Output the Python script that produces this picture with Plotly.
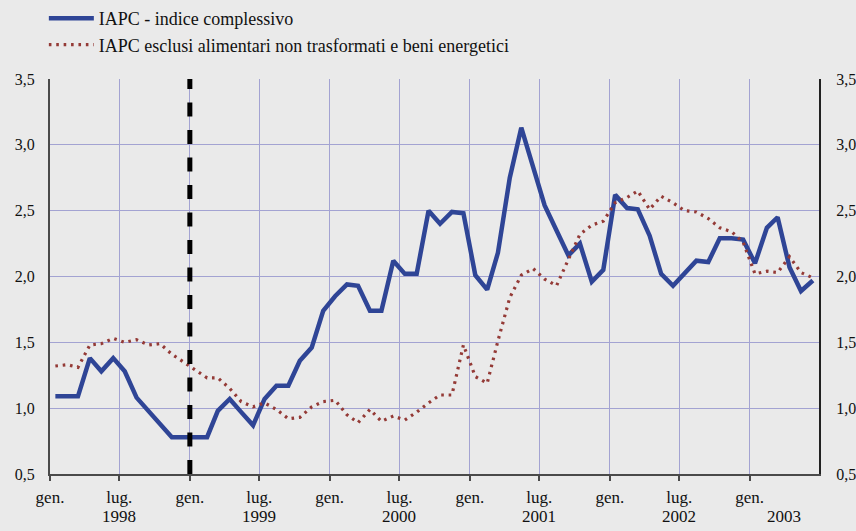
import plotly.graph_objects as go

# ---- data ----
years = [1998, 1999, 2000, 2001, 2002, 2003]
month_dates = [f"{y}-{m:02d}-15" for y in years for m in range(1, 13)][:66]

iapc_total = [
    1.09, 1.09, 1.09, 1.38, 1.28, 1.38, 1.28, 1.08, 0.98, 0.88, 0.78, 0.78,   # 1998
    0.78, 0.78, 0.98, 1.07, 0.97, 0.87, 1.07, 1.17, 1.17, 1.36, 1.46, 1.74,   # 1999
    1.85, 1.94, 1.93, 1.74, 1.74, 2.12, 2.02, 2.02, 2.50, 2.40, 2.49, 2.48,   # 2000
    2.01, 1.90, 2.18, 2.75, 3.13, 2.83, 2.54, 2.35, 2.16, 2.25, 1.96, 2.05,   # 2001
    2.62, 2.52, 2.51, 2.31, 2.02, 1.93, 2.02, 2.12, 2.11, 2.29, 2.29, 2.28,   # 2002
    2.10, 2.37, 2.45, 2.07, 1.89, 1.97,                                       # 2003
]
iapc_core = [
    1.32, 1.33, 1.31, 1.48, 1.49, 1.53, 1.50, 1.52, 1.48, 1.49, 1.41, 1.35,   # 1998
    1.29, 1.23, 1.23, 1.15, 1.05, 1.01, 1.04, 0.99, 0.92, 0.93, 1.01, 1.05,   # 1999
    1.06, 0.95, 0.89, 0.99, 0.90, 0.94, 0.91, 0.97, 1.04, 1.10, 1.10, 1.48,   # 2000
    1.24, 1.19, 1.51, 1.84, 2.01, 2.06, 1.98, 1.93, 2.13, 2.32, 2.39, 2.42,   # 2001
    2.56, 2.60, 2.65, 2.51, 2.61, 2.56, 2.50, 2.49, 2.44, 2.37, 2.34, 2.26,   # 2002
    2.02, 2.04, 2.03, 2.15, 2.03, 1.99,                                       # 2003
]
series_names = ["IAPC - indice complessivo",
                "IAPC esclusi alimentari non trasformati e beni energetici"]

tick_dates = [f"{y}-{m:02d}-01" for y in years for m in (1, 7)][:11]
tick_texts = ["gen." if d.endswith("-01-01") else "lug." for d in tick_dates]
year_labels = [str(y) for y in years]
year_label_dates = [f"{y}-07-01" for y in years[:-1]] + ["2003-04-01"]
y_ticks = [0.5, 1.0, 1.5, 2.0, 2.5, 3.0, 3.5]
marker_date = "1999-01-01"
x_range = ["1998-01-01", "2003-07-01"]
y_range = [0.5, 3.5]

# ---- styles ----
BLUE = "#2F4596"
RED = "#943A36"
GRID = "#A3A3D2"
BG = "#EAEAEA"
AX = "#4A4A4A"
FONT = "Liberation Serif, Times New Roman, DejaVu Serif, serif"

fig = go.Figure()
fig.add_trace(go.Scatter(x=month_dates, y=iapc_total, name=series_names[0], mode="lines",
                         line=dict(color=BLUE, width=4.5)))
fig.add_trace(go.Scatter(x=month_dates, y=iapc_core, name=series_names[1], mode="lines",
                         line=dict(color=RED, width=3.2, dash="2.6px,4.8px")))
# invisible trace to activate right-hand axis
fig.add_trace(go.Scatter(x=month_dates, y=iapc_total, yaxis="y2", mode="lines",
                         line=dict(width=0), opacity=0, showlegend=False, hoverinfo="skip"))

fig.add_shape(type="line", xref="x", yref="paper", x0=marker_date, x1=marker_date, y0=0, y1=1,
              line=dict(color="black", width=5, dash="14px,13.5px"), layer="above")

for lbl, d in zip(year_labels, year_label_dates):
    fig.add_annotation(x=d, xref="x", y=-0.079, yref="paper", yanchor="top",
                       text=lbl, showarrow=False,
                       font=dict(family=FONT, size=17, color="#111"))

axis_font = dict(family=FONT, size=16, color="#111")
fig.update_layout(
    width=856, height=531,
    margin=dict(l=50, r=37, t=79, b=57, autoexpand=False),
    paper_bgcolor=BG, plot_bgcolor=BG,
    separators=",.",
    font=dict(family=FONT, size=16, color="#111"),
    showlegend=True,
    legend=dict(x=-0.008, xanchor="left", y=1.2, yanchor="top",
                bgcolor="rgba(0,0,0,0)", font=dict(family=FONT, size=18, color="#111"),
                tracegroupgap=0, itemwidth=45),
    xaxis=dict(type="date", range=x_range, tickmode="array", tickvals=tick_dates, ticktext=tick_texts,
               showgrid=True, gridcolor=GRID, gridwidth=1,
               showline=True, linecolor=AX, linewidth=2,
               ticks="outside", ticklen=5, tickwidth=2, tickcolor=AX,
               tickfont=dict(family=FONT, size=17, color="#111"),
               ticklabelstandoff=2, zeroline=False),
    yaxis=dict(range=y_range, tickmode="array", tickvals=y_ticks, tickformat=".1f",
               showgrid=True, gridcolor=GRID, gridwidth=1,
               showline=True, linecolor=AX, linewidth=2, ticks="",
               tickfont=axis_font, ticklabelstandoff=10, zeroline=False),
    yaxis2=dict(range=y_range, overlaying="y", side="right", anchor="x",
                tickmode="array", tickvals=y_ticks, tickformat=".1f",
                showgrid=False, showline=True, linecolor="#222", linewidth=2, ticks="",
                tickfont=axis_font, ticklabelstandoff=12, zeroline=False),
)

fig.write_html("out.html", config={"displayModeBar": False},
               post_script="document.body.style.margin='0';")
